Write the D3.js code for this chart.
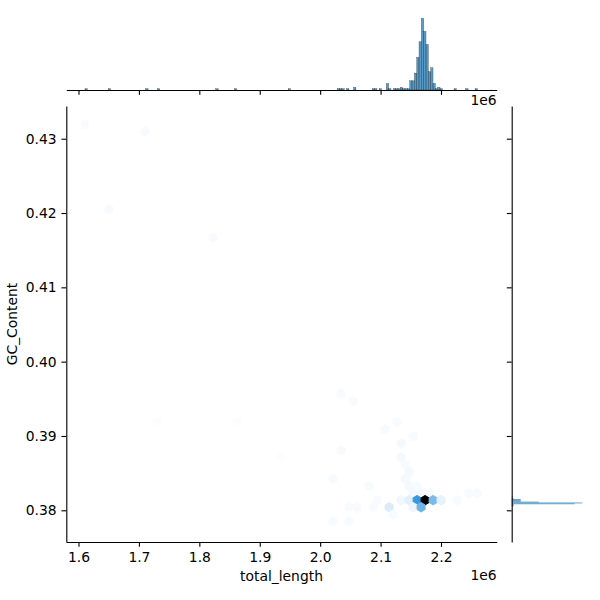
<!DOCTYPE html>
<html><head><meta charset="utf-8">
<script src="https://cdn.jsdelivr.net/npm/d3@7"></script>
<style>
body{margin:0;background:#fff}
svg{display:block}
text{font-family:"DejaVu Sans",sans-serif;fill:#000}
</style>
</head><body>
<svg id="chart" width="600" height="600"></svg>
<script>
// ---------------- data ----------------
const xTicks = [1.6e6, 1.7e6, 1.8e6, 1.9e6, 2.0e6, 2.1e6, 2.2e6];
const xTickLabels = ["1.6", "1.7", "1.8", "1.9", "2.0", "2.1", "2.2"];
const yTicks = [0.38, 0.39, 0.40, 0.41, 0.42, 0.43];
const yTickLabels = ["0.38", "0.39", "0.40", "0.41", "0.42", "0.43"];
const xLabel = "total_length";
const yLabel = "GC_Content";
const offsetLabel = "1e6";

// hexbin cells (centres in data units) and counts
const hexX = [1.61076e6, 1.71010e6, 1.65050e6, 1.82268e6, 2.03460e6, 2.05447e6, 1.72997e6, 1.86242e6,
  2.12732e6, 2.10745e6, 2.15381e6, 2.13394e6, 2.03460e6, 1.93526e6, 2.13394e6, 2.14056e6,
  2.14719e6, 2.02136e6, 2.14056e6, 2.08096e6, 2.14719e6, 2.16043e6, 2.24652e6, 2.25977e6,
  2.15381e6, 2.16705e6, 2.18030e6, 2.09421e6, 2.13394e6, 2.14719e6, 2.16043e6, 2.17368e6,
  2.18692e6, 2.20017e6, 2.22666e6, 2.04785e6, 2.06109e6, 2.08758e6, 2.11407e6, 2.15381e6,
  2.16705e6, 2.12070e6, 2.02136e6, 2.04785e6];
const hexY = [0.43194, 0.43098, 0.42049, 0.41667, 0.39568, 0.39472, 0.39186, 0.39186,
  0.39186, 0.39090, 0.38995, 0.38900, 0.38804, 0.38709, 0.38709, 0.38613,
  0.38518, 0.38422, 0.38422, 0.38327, 0.38327, 0.38327, 0.38232, 0.38232,
  0.38232, 0.38232, 0.38232, 0.38136, 0.38136, 0.38136, 0.38136, 0.38136,
  0.38136, 0.38136, 0.38136, 0.38041, 0.38041, 0.38041, 0.38041, 0.38041,
  0.38041, 0.37945, 0.37850, 0.37850];
const hexCount = [2, 2, 2, 2, 2, 2, 1, 1,
  2, 2, 2, 3, 2, 1, 3, 2,
  3, 2, 3, 2, 3, 2, 2, 2,
  3, 3, 2, 2, 4, 8, 55, 120,
  37, 7, 2, 2, 2, 2, 10, 5,
  40, 2, 2, 2];

// marginal histogram of total_length
const lengthBinStart = 1.61076e6;
const lengthBinWidth = 3866;
const lengthBinIndex = [0, 10, 26, 31, 56, 64, 87, 108, 109, 110, 112, 115, 123, 124, 126, 129, 130,
  132, 133, 134, 135, 136, 137, 138, 139, 140, 141, 142, 143, 144, 145, 146, 147, 148, 149, 150,
  151, 152, 158, 163, 167];
const lengthBinCount = [1, 1, 1, 1, 1, 1, 1, 1, 1, 1, 1, 2, 1, 1, 1, 5, 1,
  1, 1, 1, 2, 1, 1, 1, 7, 7, 13, 25, 37, 55, 45, 35, 14, 17, 5, 1,
  2, 1, 1, 1, 1];

// marginal histogram of GC_Content (main cluster)
const gcBinStart = 0.378499;
const gcBinWidth = 0.00011592;
const gcBinIndex = [17, 18, 19, 20, 21, 22, 23, 24, 25, 26, 28];
const gcBinCount = [2, 3, 3, 98, 110, 42, 14, 14, 14, 3, 2];

// ---------------- layout ----------------
const PT = 100 / 72;
const main = {left: 66.3, right: 496.7, top: 106, bottom: 542};
const margTop = {top: 14.8, bottom: 90};
const margRight = {left: 511.7, right: 585.9};
const fontSize = 10 * PT;
const tickLen = 3.5 * PT;
const tickPad = 3.5 * PT;
const lineW = 0.8 * PT;
const baseColor = "#1f77b4";
const hexSX = 13241;       // hexagon width (data units)
const hexSY = 0.0019085;   // lattice row step (data units)

const svg = d3.select("#chart");

const x = d3.scaleLinear().domain([1.57981e6, 2.29219e6]).range([main.left, main.right]);
const y = d3.scaleLinear().domain([0.375735, 0.434400]).range([main.bottom, main.top]);
const yTopM = d3.scaleLinear().domain([0, d3.max(lengthBinCount) * 1.05]).range([margTop.bottom, margTop.top]);
const xRightM = d3.scaleLinear().domain([0, d3.max(gcBinCount) * 1.05]).range([margRight.left, margRight.right]);

// colormap: seaborn hex cmap (white -> C0 hue -> black by lightness)
const c0 = d3.hsl(baseColor);
const maxCount = d3.max(hexCount);
const hexColor = c => d3.hsl(c0.h, c0.s, 1 - c / maxCount).formatHex();

// ---------------- hexbin ----------------
const hexShape = [[0.5, -0.5], [0.5, 0.5], [0, 1], [-0.5, 0.5], [-0.5, -0.5], [0, -1]];
const hexCells = hexX.map((hx, i) => ({hx, hy: hexY[i], c: hexCount[i]}));
svg.append("g").selectAll("path").data(hexCells).join("path")
  .attr("d", d => "M" + hexShape.map(([a, b]) =>
      [x(d.hx + a * hexSX), y(d.hy + b * hexSY / 3)].join(",")).join("L") + "Z")
  .attr("fill", d => hexColor(d.c))
  .attr("stroke", d => hexColor(d.c))
  .attr("stroke-width", 1);

// ---------------- marginal histograms ----------------
const lenBars = lengthBinIndex.map((k, i) => ({k, c: lengthBinCount[i]}));
svg.append("g").selectAll("rect").data(lenBars).join("rect")
  .attr("x", d => x(lengthBinStart + d.k * lengthBinWidth))
  .attr("width", d => x(lengthBinStart + (d.k + 1) * lengthBinWidth) - x(lengthBinStart + d.k * lengthBinWidth))
  .attr("y", d => yTopM(d.c))
  .attr("height", d => yTopM(0) - yTopM(d.c))
  .attr("fill", baseColor).attr("fill-opacity", 0.75)
  .attr("stroke", "#000").attr("stroke-width", 0.23);

const gcBars = gcBinIndex.map((k, i) => ({k, c: gcBinCount[i]}));
svg.append("g").selectAll("rect").data(gcBars).join("rect")
  .attr("y", d => y(gcBinStart + (d.k + 1) * gcBinWidth))
  .attr("height", d => y(gcBinStart + d.k * gcBinWidth) - y(gcBinStart + (d.k + 1) * gcBinWidth))
  .attr("x", xRightM(0))
  .attr("width", d => xRightM(d.c) - xRightM(0))
  .attr("fill", baseColor).attr("fill-opacity", 0.75);

// ---------------- axes ----------------
function styleAxis(g) {
  g.select(".domain").attr("stroke", "#000").attr("stroke-width", lineW);
  g.selectAll(".tick line").attr("stroke", "#000").attr("stroke-width", lineW);
  g.selectAll(".tick text").attr("font-size", fontSize).attr("font-family", "DejaVu Sans").attr("fill", "#000");
}

svg.append("g").attr("transform", `translate(0,${main.bottom})`)
  .call(d3.axisBottom(x).tickValues(xTicks).tickFormat((d, i) => xTickLabels[i])
    .tickSize(tickLen).tickPadding(tickPad).tickSizeOuter(0))
  .call(styleAxis);

svg.append("g").attr("transform", `translate(${main.left},0)`)
  .call(d3.axisLeft(y).tickValues(yTicks).tickFormat((d, i) => yTickLabels[i])
    .tickSize(tickLen).tickPadding(tickPad).tickSizeOuter(0))
  .call(styleAxis);

// top marginal axis (shared x, no labels)
svg.append("g").attr("transform", `translate(0,${margTop.bottom})`)
  .call(d3.axisBottom(x).tickValues(xTicks).tickFormat("")
    .tickSize(tickLen).tickSizeOuter(0))
  .call(styleAxis);

// right marginal axis (shared y, no labels)
svg.append("g").attr("transform", `translate(${margRight.left},0)`)
  .call(d3.axisLeft(y).tickValues(yTicks).tickFormat("")
    .tickSize(tickLen).tickSizeOuter(0))
  .call(styleAxis);

// labels
svg.append("text").attr("x", (main.left + main.right) / 2).attr("y", 581)
  .attr("text-anchor", "middle").attr("font-size", fontSize).text(xLabel);
svg.append("text").attr("transform", `translate(17,${(main.top + main.bottom) / 2}) rotate(-90)`)
  .attr("text-anchor", "middle").attr("font-size", fontSize).text(yLabel);
svg.append("text").attr("x", main.right).attr("y", 579.7)
  .attr("text-anchor", "end").attr("font-size", fontSize).text(offsetLabel);
svg.append("text").attr("x", main.right).attr("y", 104.7)
  .attr("text-anchor", "end").attr("font-size", fontSize).text(offsetLabel);
</script>
</body></html>
